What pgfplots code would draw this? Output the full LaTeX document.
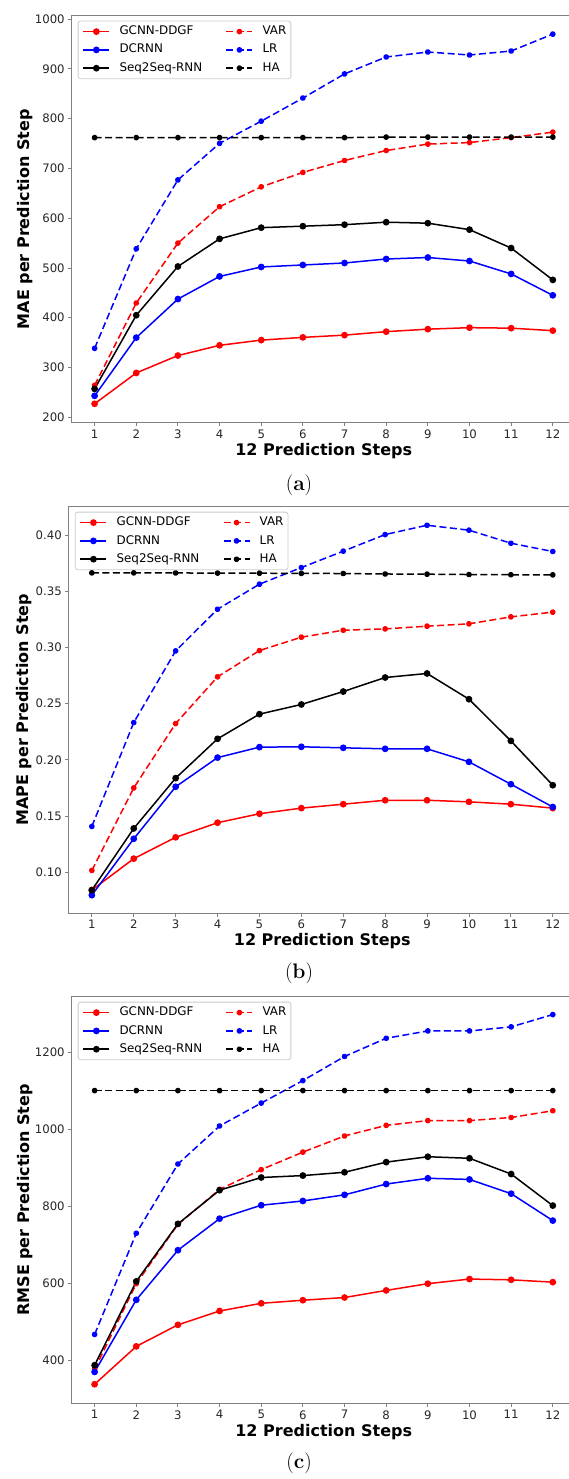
\documentclass[border=0pt]{standalone}
\usepackage{fontspec}
\setsansfont{DejaVu Sans}
\usepackage{pgfplots}
\pgfplotsset{compat=1.18}
\usepackage{pgfplotstable}
\usetikzlibrary{plotmarks}

% step gcnn dcrnn seq var lr ha
\pgfplotstableread{
step gcnn  dcrnn seq   var   lr    ha
1    227   243   257   264   338.5 762
2    289   360   405   429.5 538.5 762
3    324   437.5 503   550   677   762
4    344.5 483   558.5 623   750.5 762
5    355   502   581   663   795   762
6    360.5 506   584   692   841.5 762
7    365   510   587   716   890   762
8    372   518   592   736   924   763
9    377   521   590   749   934   763
10   380   514   577   752   928   763
11   379   488   540   762   936   763
12   374   445   476   773   970   763
}\maetab

\pgfplotstableread{
step gcnn   dcrnn  seq    var    lr     ha
1    0.084  0.0795 0.084  0.1015 0.1407 0.3665
2    0.112  0.1297 0.1389 0.175  0.2332 0.3665
3    0.131  0.176  0.1837 0.2323 0.297  0.3664
4    0.144  0.202  0.2187 0.2739 0.3341 0.3663
5    0.152  0.2113 0.2407 0.2973 0.3564 0.3662
6    0.157  0.2116 0.2493 0.3092 0.3712 0.3660
7    0.1605 0.2107 0.2608 0.3154 0.3858 0.3659
8    0.164  0.2098 0.2733 0.3166 0.4006 0.3655
9    0.164  0.2098 0.2769 0.319  0.4089 0.3653
10   0.1626 0.1982 0.254  0.3211 0.4045 0.3650
11   0.1605 0.1783 0.2169 0.3273 0.3929 0.3648
12   0.157  0.158  0.1774 0.3315 0.3855 0.3647
}\mapetab

\pgfplotstableread{
step gcnn  dcrnn seq   var    lr     ha
1    337.5 369.6 387   376.5  467    1101
2    436   557   605   599    730    1101
3    492   686   754.5 753    910    1101
4    528   768   842   844    1009   1101
5    548   803   875   895.5  1068.5 1101
6    556   814   880   941    1127   1101
7    563   830   888.6 983    1189.6 1101
8    581.5 858   915   1010.6 1237   1101
9    599   873   929   1023   1256   1101
10   611   870   925   1023   1256   1101
11   609   833   884   1031   1266.6 1101
12   603   763   802   1048.6 1298.6 1101
}\rmsetab

\pgfplotsset{
  panel/.style={
    scale only axis, anchor=north west,
    width=504pt, height=407pt,
    xmin=0.45, xmax=12.55, xtick={1,...,12},
    tick pos=left, tick align=outside, major tick length=3.5pt,
    axis line style={black!50, line width=0.9pt},
    tick style={black!50, line width=0.9pt},
    tick label style={font=\sffamily\fontsize{11.7}{13}\selectfont, text=black!85},
    /pgf/number format/assume math mode=true,
    /pgf/number format/1000 sep={},
    xlabel={12 Prediction Steps},
    xlabel style={font=\sffamily\bfseries\fontsize{16}{18}\selectfont,
      at={(axis description cs:0.5,0)}, anchor=center, yshift=-28.5pt},
    ylabel style={font=\sffamily\bfseries\fontsize{16}{18}\selectfont,
      at={(axis description cs:0,0.5)}, anchor=center},
    legend columns=2, legend cell align=left,
    legend image code/.code={
      \draw[mark repeat=2, mark phase=2, #1] plot coordinates {(0pt,0pt) (13pt,0pt) (26pt,0pt)};},
    legend style={at={(0,1)}, anchor=north west, xshift=6pt, yshift=-5pt,
      draw=black!20, line width=0.8pt, rounded corners=2.5pt, fill=white,
      inner xsep=4.5pt, inner ysep=5pt, row sep=7.3pt,
      font=\sffamily\fontsize{11.9}{13}\selectfont,
      nodes={inner sep=0pt, text height=8.6pt, text depth=2.4pt},
      /tikz/every odd column/.append style={column sep=9.4pt},
      /tikz/every even column/.append style={column sep=23.4pt}},
  },
  solidline/.style={line width=1.5pt, mark=*, mark size=2.6pt, mark options={solid, sharp corners}},
  dashline/.style={line width=1.5pt, dash pattern=on 7pt off 3.5pt, mark=10-pointed star,
    mark size=2.7pt, mark options={solid, sharp corners}},
}

\newcommand{\curves}[1]{%
  \addplot[solidline, red] table[x=step, y=gcnn] {#1};
  \addlegendentry{GCNN-DDGF}
  \addplot[dashline, red] table[x=step, y=var] {#1};
  \addlegendentry{VAR}
  \addplot[solidline, blue] table[x=step, y=dcrnn] {#1};
  \addlegendentry{DCRNN}
  \addplot[dashline, blue] table[x=step, y=lr] {#1};
  \addlegendentry{LR}
  \addplot[solidline, black] table[x=step, y=seq] {#1};
  \addlegendentry{Seq2Seq-RNN}
  \addplot[dashline, black] table[x=step, y=ha] {#1};
  \addlegendentry{HA}
}

\begin{document}
\begin{tikzpicture}
\begin{axis}[panel, at={(71.7pt,-15.7pt)},
    ymin=189, ymax=1007, ytick={200,300,...,1000},
    ylabel={MAE per Prediction Step}, ylabel style={yshift=47pt}]
  \curves{\maetab}
\end{axis}
\node[font=\fontsize{21}{24}\selectfont] at (299pt,-485pt) {(\textbf{a})};

\begin{axis}[panel, at={(68.8pt,-506.7pt)}, width=507pt, height=406.3pt,
    ymin=0.0636, ymax=0.4254, ytick={0.10,0.15,...,0.40},
    yticklabel style={/pgf/number format/.cd, fixed, fixed zerofill, precision=2},
    ylabel={MAPE per Prediction Step}, ylabel style={yshift=45pt}]
  \curves{\mapetab}
\end{axis}
\node[font=\fontsize{21}{24}\selectfont] at (299pt,-973pt) {(\textbf{b})};

\begin{axis}[panel, at={(71.7pt,-996.7pt)}, height=406.6pt,
    ymin=288, ymax=1345, ytick={400,600,...,1200},
    ylabel={RMSE per Prediction Step}, ylabel style={yshift=47pt}]
  \curves{\rmsetab}
\end{axis}
\node[font=\fontsize{21}{24}\selectfont] at (299pt,-1463pt) {(\textbf{c})};

\pgfresetboundingbox
\useasboundingbox (0pt,0pt) rectangle (569pt,-1479pt);
\end{tikzpicture}
\end{document}
